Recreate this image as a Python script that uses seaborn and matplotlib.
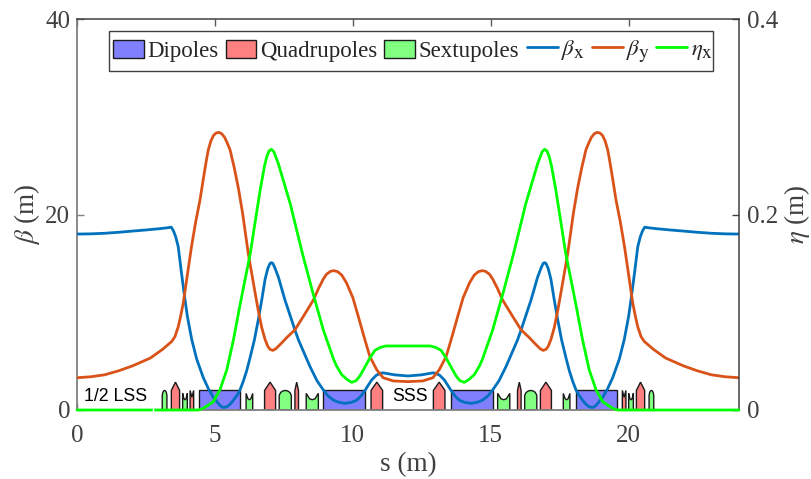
import numpy as np
import matplotlib
matplotlib.use('Agg')
import matplotlib.pyplot as plt
from matplotlib.patches import Patch, Rectangle
import matplotlib._mathtext as mt
import seaborn as sns

# half lattice, s from 0 to the centre of the cell, mirrored afterwards
s_bx = [0, 0.5, 1, 1.5, 2, 2.5, 3, 3.3, 3.42, 3.5, 3.58, 3.67, 3.78, 3.89, 4.0, 4.16, 4.34, 4.58, 4.76, 4.94,
        5.1, 5.2, 5.31, 5.45, 5.57, 5.67, 5.8, 5.91, 6.03, 6.15, 6.27, 6.43, 6.57, 6.7, 6.82, 6.92, 7.0, 7.05,
        7.1, 7.18, 7.3, 7.54, 7.9, 8.03, 8.33, 8.45, 8.7, 8.93, 9.1, 9.3, 9.5, 9.72, 9.95, 10.14, 10.3, 10.45,
        10.68, 10.85, 10.99, 11.1, 11.5, 12]
bx = [18.0, 18.02, 18.08, 18.18, 18.3, 18.42, 18.55, 18.65, 18.7, 18.3, 17.7, 16.7, 14.2, 11.8, 9.6, 7.2, 5.2, 3.3, 2.2, 1.3,
      0.75, 0.42, 0.25, 0.35, 0.65, 1.0, 1.5, 2.05, 2.95, 4.0, 5.3, 7.16, 9.2, 11.3, 13.4, 14.5, 15.0, 15.07,
      15.0, 14.5, 13.6, 11.25, 8.2, 7.16, 5.2, 4.43, 3.0, 2.05, 1.45, 1.0, 0.78, 0.68, 0.78, 1.0, 1.45, 2.05,
      3.07, 3.55, 3.75, 3.8, 3.6, 3.48]
s_by = [0, 0.5, 1, 1.5, 2, 2.65, 3.1, 3.43, 3.55, 3.67, 3.75, 3.85, 4.0, 4.15, 4.3, 4.46, 4.6, 4.7, 4.76, 4.85, 4.95, 5.05, 5.15,
        5.25, 5.35, 5.45, 5.55, 5.7, 5.85, 6.0, 6.21, 6.4, 6.57, 6.7, 6.82, 6.92, 7.0, 7.1, 7.2, 7.4, 7.6, 7.9, 8.2, 8.57, 8.75,
        8.93, 9.05, 9.2, 9.32, 9.45, 9.6, 9.77, 10.0, 10.2, 10.44, 10.62, 10.87, 11.1, 11.47, 12]
by = [3.3, 3.4, 3.6, 4.0, 4.5, 5.3, 6.2, 7.0, 7.5, 8.5, 9.5, 10.9, 13.8, 16.7, 19.2, 21.5, 24.0, 25.7, 26.6, 27.5, 28.1, 28.35, 28.4,
      28.25, 27.9, 27.3, 26.6, 24.8, 22.7, 20.2, 16.0, 12.9, 10.2, 8.4, 7.2, 6.5, 6.2, 6.1, 6.25, 6.8, 7.4, 8.2, 9.55, 11.25, 12.4,
      13.4, 13.9, 14.2, 14.25, 14.15, 13.8, 13.0, 11.5, 9.55, 7.16, 5.45, 4.1, 3.3, 2.97, 2.9]
s_eta = [0, 4.4, 4.58, 4.76, 4.94, 5.18, 5.43, 5.67, 5.9, 6.28, 6.64, 6.8, 6.88, 6.96, 7.05, 7.14, 7.3, 7.73,
         8.2, 8.56, 8.93, 9.3, 9.41, 9.6, 9.8, 9.96, 10.12, 10.26, 10.38, 10.62, 10.8, 10.99, 11.2, 12]
eta = [0, 0, 0.0017, 0.005, 0.0085, 0.0205, 0.041, 0.0716, 0.106, 0.16, 0.225, 0.25, 0.259, 0.265, 0.2667, 0.264, 0.252, 0.211,
       0.157, 0.119, 0.082, 0.052, 0.045, 0.036, 0.031, 0.0283, 0.03, 0.035, 0.041, 0.0533, 0.061, 0.064, 0.0655, 0.0655]

dipole_start = [4.43, 8.93]
dipole_end = [5.92, 10.43]
quad_start = [3.42, 6.8, 7.9, 10.66]
quad_end = [3.72, 7.2, 8.03, 11.08]
small_quad_start = [4.1]
small_quad_end = [4.23]
arch_start = [3.09, 7.33]
arch_end = [3.26, 7.77]
notch_start = [3.83, 6.13, 8.31]
notch_end = [4.0, 6.37, 8.75]
lss_gap = 2.76

s_max = 24
beta_max = 40
eta_max = 0.4

sns.set_style('ticks')
plt.rcParams['font.family'] = ['Liberation Serif']
plt.rcParams['mathtext.fontset'] = 'stix'
mt.SHRINK_FACTOR = 0.85

BLUE = '#0072BD'
ORANGE = '#D95319'
GREEN = '#00FF00'
DIP = '#8080FF'
QUAD = '#FF8080'
SEXT = '#80FF80'
DARK = '#404040'
GREY = '#808080'
EDGE = '#1a1a1a'


def mirror(s, v):
    s = np.array(s, dtype=float)
    v = np.array(v, dtype=float)
    return np.r_[s, s_max - s[-2::-1]], np.r_[v, v[-2::-1]]


def both_sides(start, end):
    return list(zip(start, end)) + [(s_max - e, s_max - a) for a, e in zip(start, end)]


def draw_shape(ax, xs, ys, color):
    ax.fill(xs, ys, facecolor=color, edgecolor=EDGE, lw=1.0, zorder=2)


fig, ax = plt.subplots(figsize=(8.11, 4.79), dpi=100)
fig.subplots_adjust(left=77 / 811, right=739 / 811, top=1 - 19 / 479, bottom=1 - 410 / 479)
ax2 = ax.twinx()
ax.set_zorder(ax2.get_zorder() - 1)
ax2.patch.set_visible(False)

h = 2.0
tip = 2.85
for a, e in both_sides(dipole_start, dipole_end):
    draw_shape(ax, [a, e, e, a], [0, 0, h, h], DIP)
for a, e in both_sides(quad_start, quad_end):
    draw_shape(ax, [a, e, e, (a + e) / 2, a], [0, 0, h, tip, h], QUAD)
for a, e in both_sides(small_quad_start, small_quad_end):
    draw_shape(ax, [a, e, e, (a + e) / 2, a], [0, 0, h, h - 0.7, h], QUAD)
for a, e in both_sides(arch_start, arch_end):
    m = (a + e) / 2
    w = (e - a) / 2
    draw_shape(ax, [a, e, e, m + w * 0.75, m + w * 0.4, m, m - w * 0.4, m - w * 0.75, a],
               [0, 0, h - 0.5, h - 0.2, h - 0.05, h, h - 0.05, h - 0.2, h - 0.5], SEXT)
for a, e in both_sides(notch_start, notch_end):
    m = (a + e) / 2
    w = (e - a) / 2
    draw_shape(ax, [a, e, e, m + w * 0.45, m, m - w * 0.45, a], [0, 0, h - 0.3, h - 0.85, h - 0.95, h - 0.85, h - 0.3], SEXT)

s, v = mirror(s_bx, bx)
sns.lineplot(x=s, y=v, color=BLUE, lw=2, ax=ax, zorder=3, sort=False, errorbar=None, estimator=None)
s, v = mirror(s_by, by)
sns.lineplot(x=s, y=v, color=ORANGE, lw=2, ax=ax, zorder=3, sort=False, errorbar=None, estimator=None)
s, v = mirror(s_eta, eta)
sns.lineplot(x=s, y=v, color=GREEN, lw=2, ax=ax2, zorder=4, sort=False, errorbar=None, estimator=None, clip_on=False)
ax2.vlines(lss_gap, -0.003, 0.004, color='white', lw=1, zorder=5, clip_on=False)

ax.text(1.41, 1.36, '1/2 LSS', family='Liberation Sans', fontsize=12.8, color='black', ha='center', va='center')
ax.text(12.07, 1.36, 'SSS', family='Liberation Sans', fontsize=12.8, color='black', ha='center', va='center')

ax.set_xlim(0, s_max)
ax.set_ylim(0, beta_max)
ax2.set_ylim(0, eta_max)
ax.set_xticks([0, 5, 10, 15, 20])
ax.set_yticks([0, 20, 40])
ax2.set_yticks([0, 0.2, 0.4])
ax2.set_yticklabels(['0', '0.2', '0.4'])
ax.set_xlabel('s (m)', fontsize=19.5, color=DARK)
ax.set_ylabel(r'$\beta$ (m)', fontsize=19.5, color=DARK)
ax2.set_ylabel(r'$\eta$ (m)', fontsize=19.5, color=DARK)
ax.xaxis.set_label_coords(0.5, -(452 - 410) / 391)
ax.yaxis.set_label_coords((42 - 77) / 662, 0.5)
ax2.yaxis.set_label_coords((782 - 77) / 662, 0.5)

ax.tick_params(axis='x', direction='in', length=5, width=1, color='#595959', labelcolor=DARK, labelsize=18, pad=11, top=True)
ax.tick_params(axis='y', direction='in', length=5, width=1, color=GREY, labelcolor=DARK, labelsize=18, pad=5)
ax2.tick_params(axis='y', direction='in', length=5, width=1, color=DARK, labelcolor=DARK, labelsize=18, pad=6)
for side in ['left', 'bottom']:
    ax.spines[side].set_color(GREY)
    ax.spines[side].set_linewidth(1.3)
    ax2.spines[side].set_visible(False)
for side in ['top', 'right']:
    ax.spines[side].set_visible(False)
    ax2.spines[side].set_color(DARK)
    ax2.spines[side].set_linewidth(1.1)

# legend frame plus two frameless legends, the math labels need other column spacing
ax2.add_patch(Rectangle(((109 - 77) / 662, 1 - (71 - 19) / 391), (713 - 109) / 662, 40 / 391,
                        transform=ax2.transAxes, facecolor='white', edgecolor=DARK, lw=1.0, zorder=9))
patch_handles = [Patch(facecolor=DIP, edgecolor=EDGE, label='Dipoles'),
                 Patch(facecolor=QUAD, edgecolor=EDGE, label='Quadrupoles'),
                 Patch(facecolor=SEXT, edgecolor=EDGE, label='Sextupoles')]
line_handles = [plt.Line2D([], [], color=BLUE, lw=2, label=r'$\beta_{\mathrm{x}}$'),
                plt.Line2D([], [], color=ORANGE, lw=2, label=r'$\beta_{\mathrm{y}}$'),
                plt.Line2D([], [], color=GREEN, lw=2, label=r'$\eta_{\mathrm{x}}$')]
leg_y = 1 - (51 - 19) / 391
leg1 = ax2.legend(handles=patch_handles, ncol=3, loc='center left', bbox_to_anchor=((113 - 77) / 662, leg_y),
                  fontsize=16.5, frameon=False, handlelength=1.35, handleheight=0.85, handletextpad=0.15,
                  columnspacing=0.3, borderpad=0, borderaxespad=0)
leg1.set_zorder(10)
ax2.add_artist(leg1)
leg2 = ax2.legend(handles=line_handles, ncol=3, loc='center left', bbox_to_anchor=((527 - 77) / 662, leg_y),
                  fontsize=16.5, frameon=False, handlelength=1.35, handletextpad=0.15,
                  columnspacing=0.28, borderpad=0, borderaxespad=0)
leg2.set_zorder(10)

fig.savefig('out.png', dpi=100)
